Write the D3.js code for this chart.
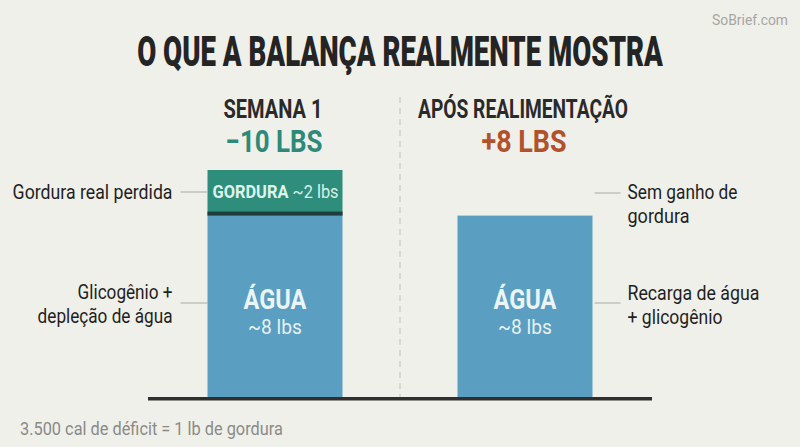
<!DOCTYPE html>
<html>
<head>
<meta charset="utf-8">
<script src="https://cdn.jsdelivr.net/npm/d3@7"></script>
<style>
  html, body { margin: 0; padding: 0; background: #f0f0eb; }
  svg { display: block; }
</style>
</head>
<body>
<svg id="chart" width="800" height="447"></svg>
<script>
// ---------- data ----------
const categories = ["SEMANA 1", "APÓS REALIMENTAÇÃO"];
const changeLabels = ["−10 LBS", "+8 LBS"];
const waterLbs = [8, 8];
const fatLbs = [2, 0];
const waterLabels = ["ÁGUA", "ÁGUA"];
const waterAmounts = ["~8 lbs", "~8 lbs"];
const fatLabel = "GORDURA";
const fatAmount = "~2 lbs";
const leftNotes = [["Gordura real perdida"], ["Glicogênio +", "depleção de água"]];
const rightNotes = [["Sem ganho de", "gordura"], ["Recarga de água", "+ glicogênio"]];
const titleText = "O QUE A BALANÇA REALMENTE MOSTRA";
const footnote = "3.500 cal de déficit = 1 lb de gordura";
const brand = "SoBrief.com";

// ---------- setup ----------
const W = 800, H = 447;
const svg = d3.select("#chart");
svg.append("rect").attr("width", W).attr("height", H).attr("fill", "#f0f0eb");

const FONT = "Roboto, 'Liberation Sans', sans-serif";
const x = d3.scaleBand().domain(categories).range([148, 652]).paddingInner(0.46).paddingOuter(0.238);
const y = d3.scaleLinear().domain([0, 10]).range([398, 170]);
const bw = x.bandwidth();

// text helper: place, then condense horizontally to a target width (or factor)
function label(px, py, txt, opts) {
  const g = svg.append("g").attr("transform", `translate(${px},${py})`);
  const t = g.append("text")
    .attr("text-anchor", opts.anchor || "start")
    .attr("font-family", FONT)
    .attr("font-size", opts.size)
    .attr("font-weight", opts.weight || 400)
    .attr("fill", opts.fill || "#222")
    .text(txt);
  const len = t.node().getComputedTextLength();
  let s = opts.scale || 1;
  if (opts.width) s = opts.width / len;
  t.attr("transform", `scale(${s},1)`);
  return t;
}

// ---------- title & brand ----------
label(400, 66, titleText, {anchor: "middle", size: 43, weight: 900, fill: "#242424", width: 526});
label(788, 25, brand, {anchor: "end", size: 14, fill: "#a6a6a2", width: 76});

// ---------- divider ----------
svg.append("line")
  .attr("x1", (x.range()[0] + x.range()[1]) / 2).attr("x2", (x.range()[0] + x.range()[1]) / 2)
  .attr("y1", 97).attr("y2", y(0))
  .attr("stroke", "#c9c9c4").attr("stroke-width", 1.2).attr("stroke-dasharray", "6,5");

// ---------- headers ----------
const headerWidths = [99, 210];
const changeWidths = [97, 85];
const changeColors = ["#2e8a78", "#b2522d"];
categories.forEach((c, i) => {
  const cx = x(c) + bw / 2;
  label(cx - 2, 118, c, {anchor: "middle", size: 26, weight: 700, fill: "#2a2a2a", width: headerWidths[i]});
  label(cx - 1, 152, changeLabels[i], {anchor: "middle", size: 31, weight: 700, fill: changeColors[i], width: changeWidths[i]});
});

// ---------- bars ----------
const bars = svg.append("g");
// water
bars.selectAll("rect.water").data(categories).join("rect")
  .attr("class", "water")
  .attr("x", d => x(d)).attr("width", bw)
  .attr("y", (d, i) => y(waterLbs[i])).attr("height", (d, i) => y(0) - y(waterLbs[i]))
  .attr("fill", "#5a9ec1");
// fat
bars.selectAll("rect.fat").data(categories.filter((d, i) => fatLbs[i] > 0)).join("rect")
  .attr("class", "fat")
  .attr("x", d => x(d)).attr("width", bw)
  .attr("y", d => { const i = categories.indexOf(d); return y(waterLbs[i] + fatLbs[i]); })
  .attr("height", d => { const i = categories.indexOf(d); return y(waterLbs[i]) - y(waterLbs[i] + fatLbs[i]); })
  .attr("fill", "#2f8e7b");
// separator
bars.selectAll("rect.sep").data(categories.filter((d, i) => fatLbs[i] > 0)).join("rect")
  .attr("x", d => x(d)).attr("width", bw)
  .attr("y", d => y(waterLbs[categories.indexOf(d)]) - 4).attr("height", 4)
  .attr("fill", "#1f3b3c");

// baseline
svg.append("rect")
  .attr("x", x.range()[0]).attr("width", x.range()[1] - x.range()[0])
  .attr("y", y(0) - 1).attr("height", 3.5)
  .attr("fill", "#2f2f2d");

// ---------- in-bar labels ----------
categories.forEach((c, i) => {
  const cx = x(c) + bw / 2;
  label(cx, 309, waterLabels[i], {anchor: "middle", size: 27, weight: 700, fill: "#eaf5f8", width: 63});
  label(cx, 334, waterAmounts[i], {anchor: "middle", size: 20, fill: "#e6f1f5", width: 54});
  if (fatLbs[i] > 0) {
    const gy = (y(waterLbs[i] + fatLbs[i]) + y(waterLbs[i]) - 4) / 2 + 7;
    label(x(c) + 5, gy, fatLabel, {anchor: "start", size: 19, weight: 700, fill: "#dcf5ec", width: 76});
    label(x(c) + bw - 4, gy, fatAmount, {anchor: "end", size: 19, fill: "#d9f0e8", width: 46});
  }
});

// ---------- annotations ----------
const leftX = x(categories[0]);
const rightX = x(categories[1]) + bw;
const leftYs = [192, 303];
const rightYs = [193, 303];
const leftBase = [199, 299];
const rightBase = [199, 300];
const leftWidths = [[160], [95, 135]];
const rightWidths = [[110, 62], [132, 95]];
leftNotes.forEach((lines, k) => {
  svg.append("line").attr("x1", leftX - 27).attr("x2", leftX).attr("y1", leftYs[k]).attr("y2", leftYs[k])
    .attr("stroke", "#a9a9a5").attr("stroke-width", 1);
  lines.forEach((ln, j) => label(leftX - 35, leftBase[k] + j * 24, ln, {anchor: "end", size: 21, fill: "#1f1f1f", width: leftWidths[k][j]}));
});
rightNotes.forEach((lines, k) => {
  svg.append("line").attr("x1", rightX + 2).attr("x2", rightX + 28).attr("y1", rightYs[k]).attr("y2", rightYs[k])
    .attr("stroke", "#a9a9a5").attr("stroke-width", 1);
  lines.forEach((ln, j) => label(rightX + 35, rightBase[k] + j * 24, ln, {anchor: "start", size: 21, fill: "#1f1f1f", width: rightWidths[k][j]}));
});

// ---------- footnote ----------
label(20, 435, footnote, {anchor: "start", size: 17.5, fill: "#8a8a86", width: 263});
</script>
</body>
</html>
